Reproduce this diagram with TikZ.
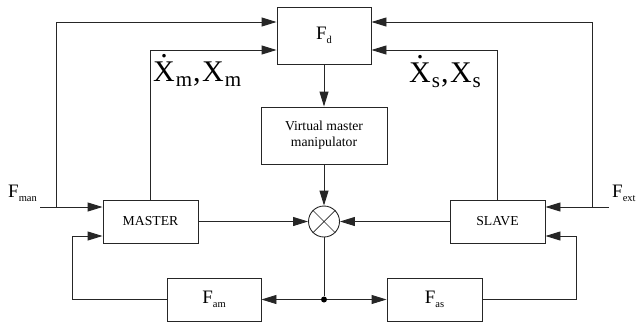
\documentclass[tikz,border=0pt]{standalone}
\usepackage{fontspec}
\setmainfont{Liberation Serif}
\usetikzlibrary{arrows.meta,calc}
\tikzset{
  blk/.style={draw=black!85, line width=0.9pt, inner sep=0pt, align=center,
    font=\fontsize{13.7}{16}\selectfont},
  link/.style={draw=black!85, line width=0.9pt},
  arr/.style={link, -{Triangle[length=15pt,width=9pt]}},
  lbl/.style={anchor=base west, inner sep=0pt},
}
\newcommand\Fsub[1]{{\fontsize{19}{19}\selectfont F}\raisebox{-4pt}{\fontsize{10.5}{10.5}\selectfont #1}}
\newcommand\Xdot{\ooalign{X\cr\hidewidth\raisebox{0.78em}{.}\hidewidth\cr}}
\newcommand\Xsb[1]{\kern1pt\raisebox{-5pt}{\fontsize{21}{21}\selectfont #1}}
\newcommand\Xlab[1]{{\fontsize{30}{30}\selectfont\Xdot\Xsb{#1}\kern1pt,\kern1.5ptX\Xsb{#1}}}
\begin{document}
\begin{tikzpicture}[x=1pt,y=-1pt]
\useasboundingbox (0,0) rectangle (636,325);
% blocks
\node[blk, minimum width=94pt, minimum height=57pt] (fd) at (324,35.5) {\Fsub{d}};
\node[blk, minimum width=126pt, minimum height=57pt] (vm) at (324,135.5) {Virtual master\\manipulator};
\node[draw=black!85, circle, line width=0.9pt, minimum size=31pt, inner sep=0pt] (sum) at (324,221.5) {};
\draw[line width=0.7pt, black!85] (sum.north west) -- (sum.south east) (sum.north east) -- (sum.south west);
\node[blk, minimum width=95pt, minimum height=43pt] (master) at (150.5,221.5) {MASTER};
\node[blk, minimum width=95pt, minimum height=43pt] (slave) at (497.5,221.5) {SLAVE};
\node[blk, minimum width=94pt, minimum height=43pt] (fam) at (214,299.5) {\Fsub{am}};
\node[blk, minimum width=95pt, minimum height=43pt] (fas) at (434.5,299.5) {\Fsub{as}};
\node[circle, fill=black, inner sep=0pt, minimum size=6pt] (jn) at (324,299.5) {};
% helper coordinates
\coordinate (mIn) at (40,207);
\coordinate (mV) at (56,207);
\coordinate (sIn) at (609,207);
\coordinate (sV) at (592,207);
\coordinate (topA) at (0,22);
\coordinate (topB) at (0,50);
\coordinate (lowIn) at (0,236);
\coordinate (mLoop) at (72,299.5);
\coordinate (sLoop) at (576,299.5);
% connectors
\draw[arr] (mIn) -- (master.west |- mIn);
\draw[arr] (mV) |- (fd.west |- topA);
\draw[arr] (master.north) |- (fd.west |- topB);
\draw[arr] (sIn) -- (slave.east |- sIn);
\draw[arr] (sV) |- (fd.east |- topA);
\draw[arr] (slave.north) |- (fd.east |- topB);
\draw[arr] (fd) -- (vm);
\draw[arr] (vm) -- (sum);
\draw[arr] (master) -- (sum);
\draw[arr] (slave) -- (sum);
\draw[link] (sum) -- (jn);
\draw[arr] (jn) -- (fam);
\draw[arr] (jn) -- (fas);
\draw[arr] (fam.west) -- (mLoop) |- (master.west |- lowIn);
\draw[arr] (fas.east) -- (sLoop) |- (slave.east |- lowIn);
% labels
\node[lbl] (lman) at (8,197) {\Fsub{man}};
\node[lbl] (lext) at (612,197) {\Fsub{ext}};
\node[lbl] (lxm) at (153,81) {\Xlab{m}};
\node[lbl] (lxs) at (409,82) {\Xlab{s}};
\end{tikzpicture}
\end{document}
